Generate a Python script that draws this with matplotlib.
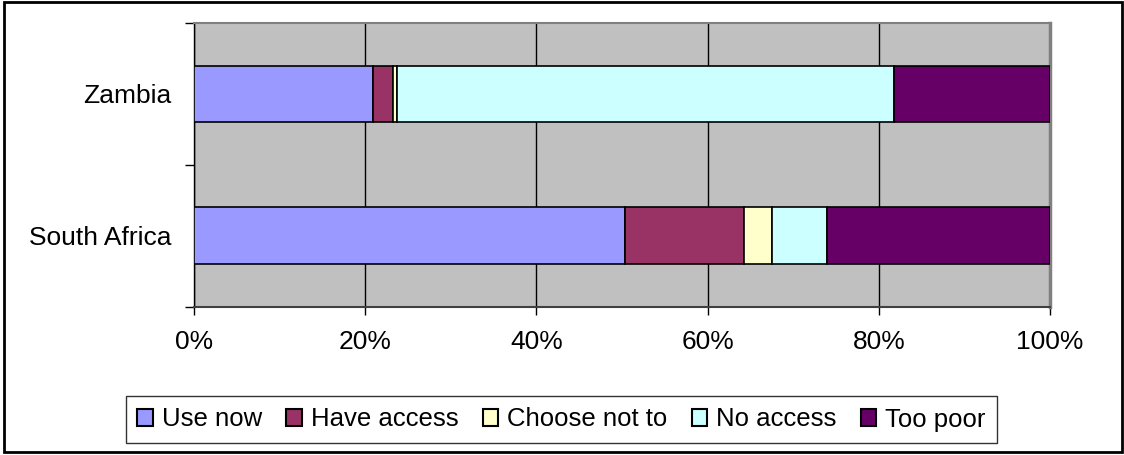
import matplotlib
matplotlib.use("Agg")
import matplotlib.pyplot as plt
from matplotlib.patches import Rectangle
import numpy as np

plt.rcParams['font.family'] = ['Liberation Sans', 'DejaVu Sans']

countries = ["South Africa", "Zambia"]
series = ["Use now", "Have access", "Choose not to", "No access", "Too poor"]
use_now = [50.4, 20.9]
have_access = [13.8, 2.3]
choose_not_to = [3.3, 0.5]
no_access = [6.4, 58.1]
too_poor = [26.1, 18.2]
colors = ["#9999FF", "#993366", "#FFFFCC", "#CCFFFF", "#660066"]
x_ticks = [0, 20, 40, 60, 80, 100]
x_tick_labels = ["0%", "20%", "40%", "60%", "80%", "100%"]

W, H = 1124, 455
fig = plt.figure(figsize=(W / 100, H / 100), dpi=100)
fig.patch.set_facecolor("white")

left, right, top, bottom = 194, 1050, 23, 306.5
ax = fig.add_axes([left / W, 1 - bottom / H, (right - left) / W, (bottom - top) / H])
ax.set_facecolor("#C0C0C0")

ypos = np.arange(len(countries))
base = np.zeros(len(countries))
for name, vals, col in zip(series, [use_now, have_access, choose_not_to, no_access, too_poor], colors):
    ax.barh(ypos, vals, left=base, height=0.4, color=col, edgecolor="black",
            linewidth=1.2, label=name, zorder=3)
    base = base + np.array(vals)

ax.set_xlim(0, 100)
ax.set_ylim(-0.5, 1.5)
ax.set_xticks(x_ticks)
ax.set_xticklabels(x_tick_labels, fontsize=19)
ax.tick_params(axis="x", length=6, width=1, color="black", pad=11, direction="out")
ax.set_yticks([-0.5, 0.5, 1.5])
ax.set_yticklabels([])
ax.set_yticks(ypos, minor=True)
ax.set_yticklabels(countries, minor=True, fontsize=19)
ax.tick_params(axis="y", which="major", length=6.5, width=1, color="black")
ax.tick_params(axis="y", which="minor", length=0, pad=16)
ax.xaxis.grid(True, color="black", linewidth=1)
ax.set_axisbelow(True)

ax.spines["left"].set_color("black")
ax.spines["left"].set_linewidth(1)
ax.spines["bottom"].set_color("#404040")
ax.spines["bottom"].set_linewidth(1.5)
ax.spines["top"].set_color("#808080")
ax.spines["top"].set_linewidth(1.5)
ax.spines["right"].set_color("#808080")
ax.spines["right"].set_linewidth(2.5)

handles, labels = ax.get_legend_handles_labels()
leg = fig.legend(handles, labels, loc="center", bbox_to_anchor=(561.5 / W, 1 - 419.5 / H),
                 ncol=5, fontsize=18.5, frameon=True, fancybox=False, edgecolor="black",
                 handlelength=0.6, handleheight=0.6, handletextpad=0.35,
                 columnspacing=0.95, borderpad=0.45, borderaxespad=0)
leg.get_frame().set_linewidth(1)
for h in leg.legend_handles:
    h.set_edgecolor("black")
    h.set_linewidth(1.5)

fig.patches.append(Rectangle((4 / W, 1 - 452 / H), (1122 - 4) / W, (452 - 1.5) / H,
                             transform=fig.transFigure, fill=False, edgecolor="black",
                             linewidth=2))

fig.savefig("out.png", dpi=100)
